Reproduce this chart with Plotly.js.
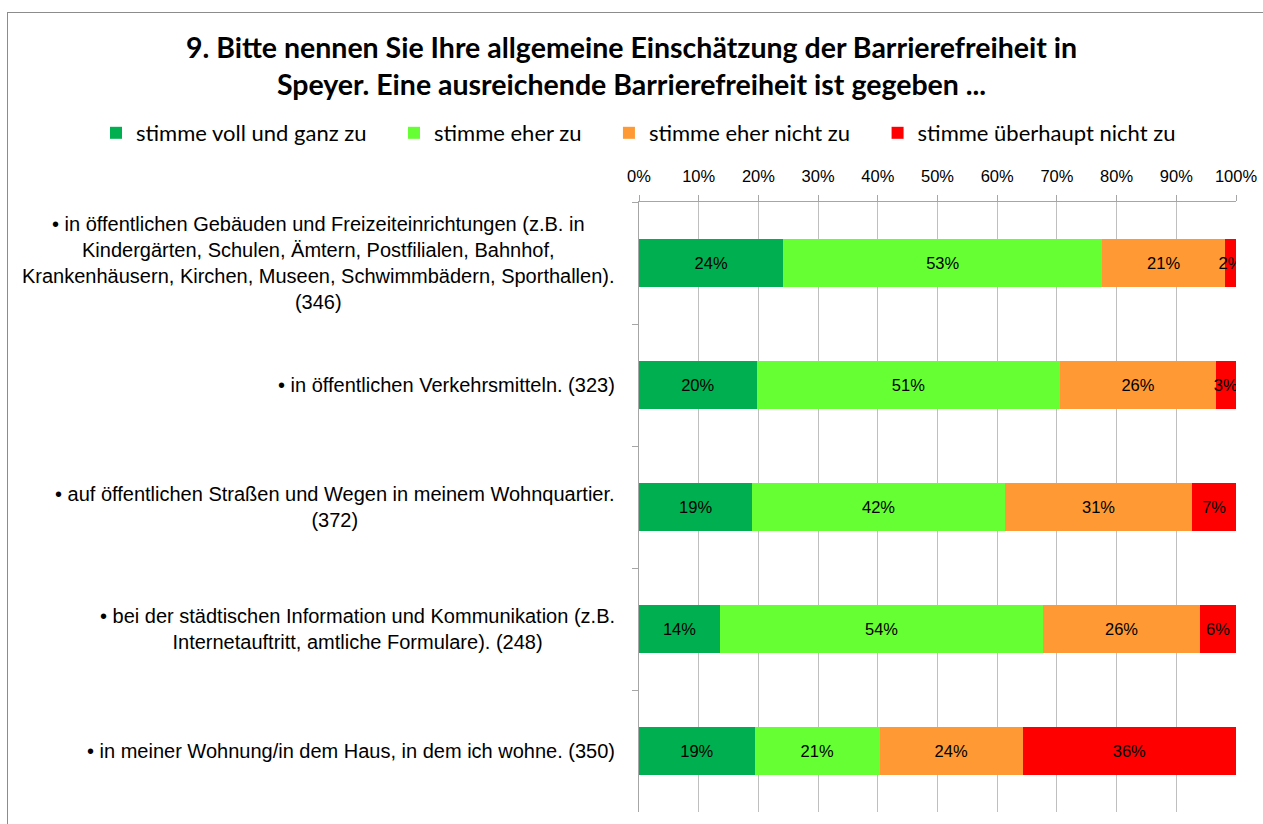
<!DOCTYPE html>
<html>
<head>
<meta charset="utf-8">
<script src="https://cdn.plot.ly/plotly-3.0.1.min.js"></script>
<style>
  html, body { margin: 0; padding: 0; background: #fff; }
  #chart { width: 1263px; height: 824px; }
  #frame { position: absolute; left: 7px; top: 12px; width: 1270px; height: 830px; border: 1px solid #8c8c8c; pointer-events: none; }
</style>
</head>
<body>
<div id="chart"></div>
<div id="frame"></div>
<script>
const categories = [
  "• in öffentlichen Gebäuden und Freizeiteinrichtungen (z.B. in<br>Kindergärten, Schulen, Ämtern, Postfilialen, Bahnhof,<br>Krankenhäusern, Kirchen, Museen, Schwimmbädern, Sporthallen).<br>(346)",
  "• in öffentlichen Verkehrsmitteln. (323)",
  "• auf öffentlichen Straßen und Wegen in meinem Wohnquartier.<br>(372)",
  "• bei der städtischen Information und Kommunikation (z.B.<br>Internetauftritt, amtliche Formulare). (248)",
  "• in meiner Wohnung/in dem Haus, in dem ich wohne. (350)"
];
const seriesNames = ["stimme voll und ganz zu", "stimme eher zu", "stimme eher nicht zu", "stimme überhaupt nicht zu"];
const vollUndGanz     = [24.2, 19.7, 19.0, 13.6, 19.4];
const eherZu          = [53.4, 50.9, 42.3, 54.1, 20.9];
const eherNicht       = [20.6, 26.0, 31.4, 26.3, 24.0];
const ueberhauptNicht = [1.8, 3.4, 7.3, 6.0, 35.7];
const xTickVals = [0, 10, 20, 30, 40, 50, 60, 70, 80, 90, 100];
const xTickText = ["0%", "10%", "20%", "30%", "40%", "50%", "60%", "70%", "80%", "90%", "100%"];

const colors = ["#00B050", "#66FF33", "#FF9933", "#FF0000"];
const series = [vollUndGanz, eherZu, eherNicht, ueberhauptNicht];
const sans = "'Liberation Sans', Arial, sans-serif";
const legendPad = "\u00a0\u00a0\u00a0\u00a0";

const traces = series.map((vals, i) => ({
  type: "bar",
  orientation: "h",
  name: seriesNames[i] + (i < series.length - 1 ? legendPad : ""),
  y: categories,
  x: vals,
  marker: { color: colors[i], line: { width: 0 } },
  texttemplate: "%{x:.0f}%",
  textposition: "inside",
  insidetextanchor: "middle",
  constraintext: "none",
  textangle: 0,
  textfont: { family: sans, size: 16.5, color: "#000" },
  hoverinfo: "skip"
}));

const annotations = categories.map(c => ({
  xref: "paper", yref: "y",
  x: 0, y: c,
  xanchor: "right", yanchor: "middle",
  xshift: -22,
  align: "center",
  text: c,
  showarrow: false,
  font: { family: sans, size: 20, color: "#000" }
}));

const layout = {
  width: 1263, height: 824,
  margin: { l: 639, r: 27, t: 202, b: 12 },
  paper_bgcolor: "#fff", plot_bgcolor: "#fff",
  barmode: "stack",
  bargap: 0.6,
  showlegend: true,
  title: {
    text: "<b>9. Bitte nennen Sie Ihre allgemeine Einschätzung der Barrierefreiheit in<br>Speyer. Eine ausreichende Barrierefreiheit ist gegeben ...</b>",
    font: { family: "Lato, 'Open Sans', sans-serif", size: 28.5, color: "#000" },
    x: 0.5, xref: "container", xanchor: "center",
    y: 1 - 58 / 824, yref: "container", yanchor: "middle"
  },
  legend: {
    orientation: "h",
    xref: "paper", yref: "paper",
    x: (96 - 639) / 597, y: 1 + (202 - 133) / 610,
    xanchor: "left", yanchor: "middle",
    font: { family: "Lato, 'Open Sans', sans-serif", size: 22, color: "#000" },
    traceorder: "normal"
  },
  xaxis: {
    side: "top",
    range: [0, 100],
    tickvals: xTickVals,
    ticktext: xTickText,
    showgrid: true,
    gridcolor: "#BFBFBF",
    gridwidth: 1,
    showline: true,
    linecolor: "#A6A6A6",
    ticks: "outside",
    ticklen: 6,
    tickcolor: "#A6A6A6",
    ticklabelstandoff: 6,
    tickfont: { family: sans, size: 16.5, color: "#000" },
    zeroline: false,
    fixedrange: true
  },
  yaxis: {
    autorange: "reversed",
    showticklabels: false,
    showgrid: false,
    showline: true,
    linecolor: "#A6A6A6",
    ticks: "outside",
    tickson: "boundaries",
    ticklen: 6,
    tickcolor: "#A6A6A6",
    zeroline: false,
    fixedrange: true
  },
  annotations: annotations
};

Plotly.newPlot("chart", traces, layout, { displayModeBar: false, staticPlot: true });
</script>
</body>
</html>
